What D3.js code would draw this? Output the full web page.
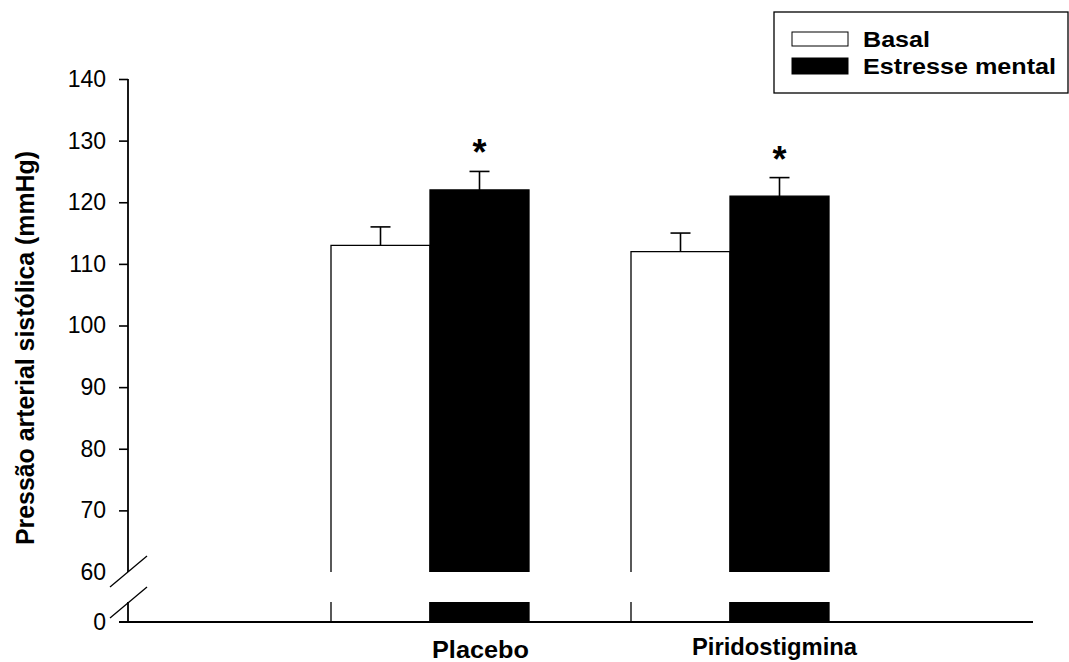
<!DOCTYPE html>
<html>
<head>
<meta charset="utf-8">
<script src="https://cdn.jsdelivr.net/npm/d3@7"></script>
<style>
  html, body { margin: 0; padding: 0; background: #fff; }
  svg { display: block; font-family: Arial, "Liberation Sans", sans-serif; }
</style>
</head>
<body>
<svg id="chart" width="1069" height="662"></svg>
<script>
// Systolic blood pressure, baseline vs mental stress, per treatment
const groups = ["Placebo", "Piridostigmina"];
const seriesNames = ["Basal", "Estresse mental"];
const basalMean = [113, 112];
const basalSem = [3, 3];
const stressMean = [122, 121];
const stressSem = [3, 3];
const significant = [true, true];
const yTicks = [60, 70, 80, 90, 100, 110, 120, 130, 140];
const yTitle = "Pressão arterial sistólica (mmHg)";

const svg = d3.select("#chart");

const axisX = 128;          // vertical axis position
const baseY = 622;          // x axis (value 0)
const breakTop = 572;       // value 60, end of upper segment
const breakBottom = 602;    // start of lower segment

// Upper (broken) value scale
const y = d3.scaleLinear().domain([60, 140]).range([breakTop, 79]);

// Group / series band scales
const x0 = d3.scaleBand().domain(groups).range([231, 831]);
const x1 = d3.scaleBand().domain(seriesNames).range([100, 298]);
function barX(g, s) { return x0(g) + x1(s); }
const barW = x1.bandwidth();

const fills = { "Basal": "#fff", "Estresse mental": "#000" };

const data = groups.map((g, i) => ({
  group: g,
  bars: [
    { series: "Basal", mean: basalMean[i], sem: basalSem[i], star: false },
    { series: "Estresse mental", mean: stressMean[i], sem: stressSem[i], star: significant[i] }
  ]
}));

// Error bars (upper whisker only, drawn behind bars)
const errG = svg.append("g").attr("stroke", "#000").attr("stroke-width", 1.6);
data.forEach(d => d.bars.forEach(b => {
  const cx = barX(d.group, b.series) + barW / 2;
  errG.append("line").attr("x1", cx).attr("x2", cx)
    .attr("y1", y(b.mean)).attr("y2", y(b.mean + b.sem));
  errG.append("line").attr("x1", cx - 10).attr("x2", cx + 10)
    .attr("y1", y(b.mean + b.sem)).attr("y2", y(b.mean + b.sem));
}));

// Bars – upper segment (60 up to the mean), open at the bottom
const barG = svg.append("g");
data.forEach(d => d.bars.forEach(b => {
  const bx = barX(d.group, b.series);
  const top = y(b.mean);
  barG.append("rect").attr("x", bx).attr("y", top)
    .attr("width", barW).attr("height", breakTop - top)
    .attr("fill", fills[b.series]);
  barG.append("path")
    .attr("d", `M${bx},${breakTop}V${top}H${bx + barW}V${breakTop}`)
    .attr("fill", "none").attr("stroke", "#000").attr("stroke-width", 1.3);
  // lower segment (below the axis break)
  barG.append("rect").attr("x", bx).attr("y", breakBottom)
    .attr("width", barW).attr("height", baseY - breakBottom)
    .attr("fill", fills[b.series]);
  barG.append("path")
    .attr("d", `M${bx},${baseY}V${breakBottom}M${bx + barW},${breakBottom}V${baseY}`)
    .attr("fill", "none").attr("stroke", "#000").attr("stroke-width", 1.3);
  if (b.star) {
    barG.append("text")
      .attr("x", bx + barW / 2).attr("y", y(b.mean + b.sem) - 6)
      .attr("text-anchor", "middle").attr("font-size", 36).attr("font-weight", "bold")
      .text("*");
  }
}));

// Y axis – upper segment
const yAxis = d3.axisLeft(y).tickValues(yTicks).tickSize(9).tickPadding(13).tickFormat(d3.format("d"));
const yG = svg.append("g").attr("transform", `translate(${axisX},0)`).call(yAxis);
yG.select(".domain").remove();
yG.selectAll(".tick line").attr("stroke", "#000").attr("stroke-width", 1.6)
  .filter(d => d === 60).remove();
yG.selectAll(".tick text").attr("font-size", 23).attr("fill", "#000")
  .attr("font-family", "Arial, 'Liberation Sans', sans-serif");
yG.append("line").attr("x1", 0).attr("x2", 0)
  .attr("y1", y(140)).attr("y2", breakTop).attr("stroke", "#000").attr("stroke-width", 1.8);
yG.append("line").attr("x1", 0).attr("x2", 0)
  .attr("y1", breakBottom).attr("y2", baseY).attr("stroke", "#000").attr("stroke-width", 1.8);

// Zero label
svg.append("text").attr("x", axisX - 22).attr("y", baseY).attr("dy", "0.36em")
  .attr("text-anchor", "end").attr("font-size", 23).text("0");

// Axis break marks
svg.append("line").attr("x1", 110).attr("y1", 587).attr("x2", 147).attr("y2", 556)
  .attr("stroke", "#000").attr("stroke-width", 1.3);
svg.append("line").attr("x1", 110).attr("y1", 618).attr("x2", 147).attr("y2", 587)
  .attr("stroke", "#000").attr("stroke-width", 1.3);

// X axis
svg.append("line").attr("x1", 119).attr("x2", 1033).attr("y1", baseY).attr("y2", baseY)
  .attr("stroke", "#000").attr("stroke-width", 1.8);

// Group labels
const xLabelStart = { "Placebo": 432, "Piridostigmina": 692 };
const xLabelLen = { "Placebo": 97, "Piridostigmina": 165 };
const xLabelY = { "Placebo": 658, "Piridostigmina": 655 };
groups.forEach(g => {
  svg.append("text")
    .attr("x", xLabelStart[g])
    .attr("y", xLabelY[g])
    .attr("font-size", 24).attr("font-weight", "bold")
    .attr("textLength", xLabelLen[g]).attr("lengthAdjust", "spacingAndGlyphs")
    .text(g);
});

// Y axis title
svg.append("text")
  .attr("transform", "translate(34,348) rotate(-90)")
  .attr("text-anchor", "middle").attr("font-size", 26).attr("font-weight", "bold")
  .attr("textLength", 394).attr("lengthAdjust", "spacingAndGlyphs")
  .text(yTitle);

// Legend
const leg = svg.append("g");
leg.append("rect").attr("x", 774).attr("y", 12).attr("width", 294).attr("height", 81)
  .attr("fill", "#fff").attr("stroke", "#000").attr("stroke-width", 1.3);
const legRows = [
  { name: seriesNames[0], sy: 32, sh: 14, ty: 47, len: 67 },
  { name: seriesNames[1], sy: 58, sh: 16, ty: 74, len: 193 }
];
legRows.forEach(r => {
  leg.append("rect").attr("x", 792).attr("y", r.sy).attr("width", 56).attr("height", r.sh)
    .attr("fill", fills[r.name]).attr("stroke", "#000").attr("stroke-width", 1);
  leg.append("text").attr("x", 863).attr("y", r.ty)
    .attr("font-size", 22).attr("font-weight", "bold")
    .attr("textLength", r.len).attr("lengthAdjust", "spacingAndGlyphs")
    .text(r.name);
});
</script>
</body>
</html>
